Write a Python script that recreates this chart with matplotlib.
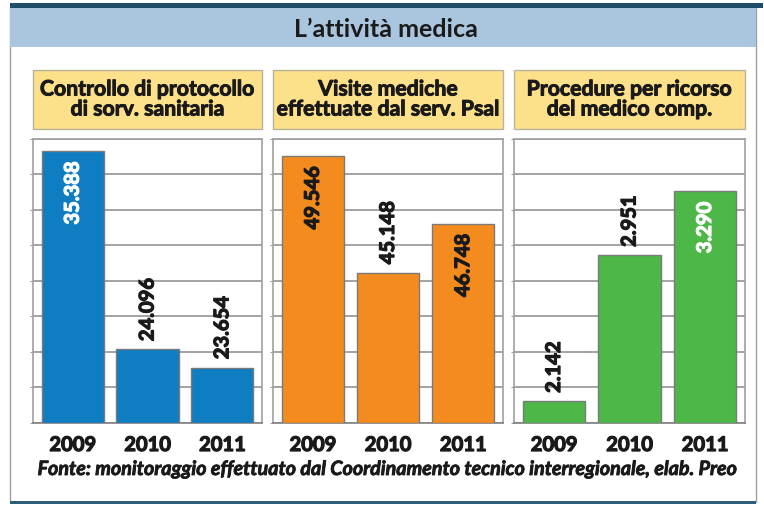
import matplotlib.pyplot as plt
import matplotlib.patheffects as pe
from matplotlib.patches import Rectangle

plt.rcParams['font.family'] = ['Lato', 'DejaVu Sans']

years = ["2009", "2010", "2011"]

titles = ["Controllo di protocollo\ndi sorv. sanitaria",
          "Visite mediche\neffettuate dal serv. Psal",
          "Procedure per ricorso\ndel medico comp."]

# values printed on the bars
controllo_vals = ["35.388", "24.096", "23.654"]
visite_vals = ["49.546", "45.148", "46.748"]
procedure_vals = ["2.142", "2.951", "3.290"]

# drawn bar heights (the original graphic is not to scale), in grid steps out of 8
controllo_h = [7.66, 2.06, 1.55]
visite_h = [7.52, 4.23, 5.61]
procedure_h = [0.60, 4.72, 6.52]

# value label inside the bar (True) or on top of it (False)
controllo_in = [True, False, False]
visite_in = [True, False, True]
procedure_in = [False, False, True]

panels = [
    (titles[0], controllo_h, controllo_vals, controllo_in, "#0e7dc2", "white"),
    (titles[1], visite_h, visite_vals, visite_in, "#f38b1f", "#1a1a1a"),
    (titles[2], procedure_h, procedure_vals, procedure_in, "#4db848", "white"),
]

def heavy(c, lw=0.7):
    # fake a heavier weight than Lato Bold
    return [pe.withStroke(linewidth=lw, foreground=c)]

W, H = 764, 506
fig = plt.figure(figsize=(W / 100, H / 100), dpi=100)

# background layer in pixel coords
bg = fig.add_axes([0, 0, 1, 1])
bg.set_xlim(0, W)
bg.set_ylim(H, 0)
bg.axis('off')
bg.add_patch(Rectangle((10, 8), 746, 495, fc="white", ec="#a0a0a0", lw=1))
bg.add_patch(Rectangle((10, 9), 746, 39, fc="#aac6de", ec="none"))
bg.add_patch(Rectangle((10, 4), 753, 5, fc="#1d4d6b", ec="none"))
bg.add_patch(Rectangle((10, 502), 746, 3, fc="#2d5f7c", ec="none"))
bg.text(386, 29, "L\u2019attivit\u00e0 medica", ha="center", va="center",
        fontsize=18, fontweight="bold", color="#1a1a1a")
bg.text(388, 470, "Fonte: monitoraggio effettuato dal Coordinamento tecnico "
        "interregionale, elab. Preo", ha="center", va="center",
        fontsize=14.2, fontweight="bold", style="italic", color="#1a1a1a",
        path_effects=heavy("#1a1a1a", 0.6))

frames = [(33, 229), (273, 230), (514, 231)]
x = range(len(years))

for (x0, w), (title, heights, labels, inside, color, incolor) in zip(frames, panels):
    # yellow header box
    bg.add_patch(Rectangle((x0, 71), w, 59, fc="#fde08a", ec="#b8b39c", lw=1))
    bg.text(x0 + w / 2, 100.5, title, ha="center", va="center", fontsize=15.3,
            fontweight="bold", color="#1a1a1a", linespacing=1.0,
            path_effects=heavy("#1a1a1a"))

    ax = fig.add_axes([x0 / W, 1 - 423.5 / H, w / W, 283.5 / H])
    ax.bar(x, heights, width=0.83, color=color, edgecolor="#7a7a7a", lw=1, zorder=3)
    ax.set_xlim(-0.53, 2.53)
    ax.set_ylim(0, 8)
    ax.set_yticks(range(9))
    ax.yaxis.grid(True, color="#9c9c9c", lw=1.3, zorder=0)
    ax.tick_params(axis="y", length=2, color="#9c9c9c", labelleft=False)
    ax.set_xticks(list(x))
    ax.set_xticklabels(years, fontsize=14.5, fontweight="bold", color="#1a1a1a")
    for t in ax.get_xticklabels():
        t.set_path_effects(heavy("#1a1a1a", 0.9))
    ax.tick_params(axis="x", length=0, pad=9)
    for s in ax.spines.values():
        s.set_color("#a0a0a0")
        s.set_linewidth(1.2)
    ax.spines["bottom"].set_color("#808080")

    for i, (hgt, lab, ins) in enumerate(zip(heights, labels, inside)):
        if ins:
            ax.annotate(lab, (i, hgt), xytext=(0, -7.5), textcoords="offset points",
                        rotation=90, ha="center", va="top", fontsize=14.5,
                        fontweight="bold", color=incolor, zorder=4,
                        path_effects=heavy(incolor, 0.9))
        else:
            ax.annotate(lab, (i, hgt), xytext=(0, 6), textcoords="offset points",
                        rotation=90, ha="center", va="bottom", fontsize=14.5,
                        fontweight="bold", color="#1a1a1a", zorder=4,
                        path_effects=heavy("#1a1a1a", 0.9))

fig.savefig("out.png", dpi=100)
